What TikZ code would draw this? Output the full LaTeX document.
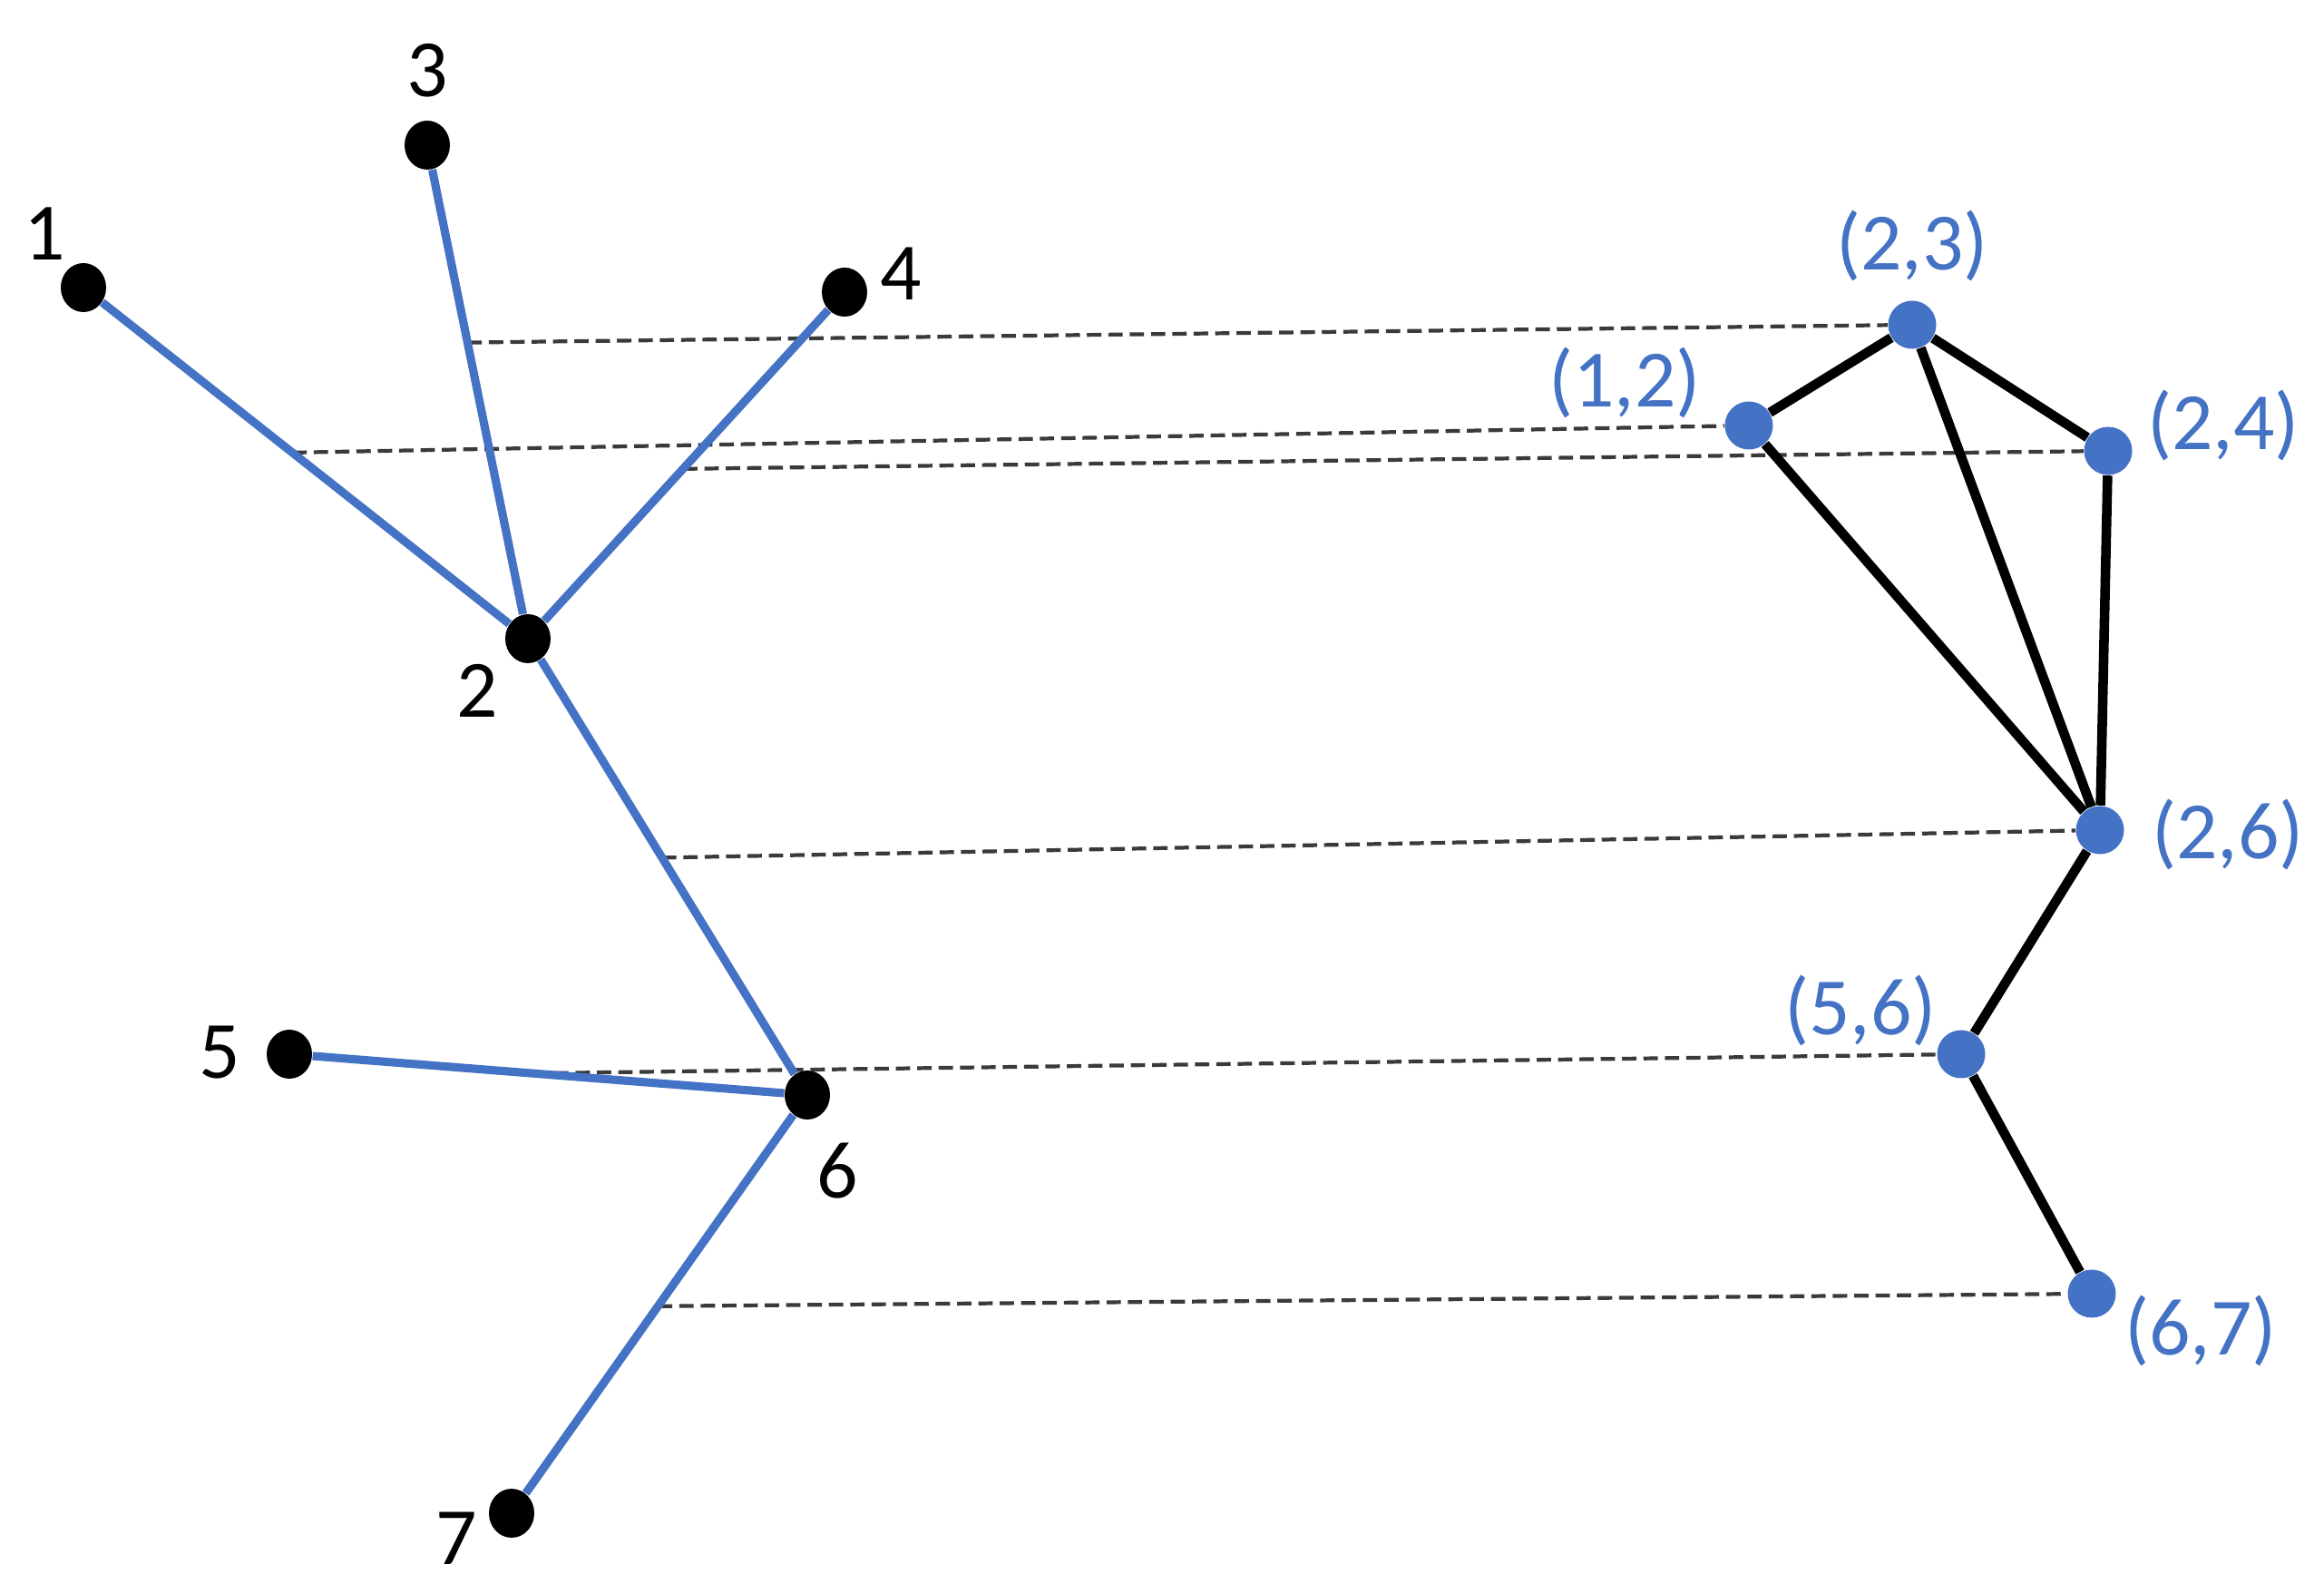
\documentclass[tikz,border=0pt]{standalone}
\usepackage{fontspec}
\setmainfont{Carlito}
\usetikzlibrary{calc, shapes.geometric}
\definecolor{lineblue}{HTML}{4472C4}
\definecolor{dashgray}{HTML}{3A3A3A}

\begin{document}
\begin{tikzpicture}[
  vtx/.style={fill=black, ellipse, inner sep=0, minimum width=0.5cm, minimum height=0.54cm},
  evtx/.style={fill=lineblue, circle, inner sep=0, minimum size=0.53cm},
  lbl/.style={font=\fontsize{25.5}{30}\selectfont, inner sep=0},
  elbl/.style={font=\fontsize{25.5}{30}\selectfont, text=lineblue, inner sep=0},
  tedge/.style={draw=lineblue, line width=2.6pt},
  ledge/.style={draw=black, line width=3pt},
  link/.style={draw=dashgray, line width=1.2pt, dash pattern=on 4.5pt off 2.2pt}]
\useasboundingbox (0,0) rectangle (25.62,17.46);
% Tree
\node[vtx] (t1) at (0.92,14.29) {};
\node[vtx] (t2) at (5.82,10.42) {};
\node[vtx] (t3) at (4.71,15.86) {};
\node[vtx] (t4) at (9.31,14.24) {};
\node[vtx] (t5) at (3.19,5.84) {};
\node[vtx] (t6) at (8.90,5.39) {};
\node[vtx] (t7) at (5.64,0.78) {};
\node[lbl] (n1) at (0.49,14.88) {1};
\node[lbl] (n2) at (5.26,9.85) {2};
\node[lbl] (n3) at (4.71,16.68) {3};
\node[lbl] (n4) at (9.93,14.44) {4};
\node[lbl] (n5) at (2.42,5.86) {5};
\node[lbl] (n6) at (9.23,4.55) {6};
\node[lbl] (n7) at (5.03,0.50) {7};
% Line graph
\node[evtx] (e23) at (21.08,13.88) {};
\node[evtx] (e12) at (19.28,12.77) {};
\node[evtx] (e24) at (23.24,12.49) {};
\node[evtx] (e26) at (23.15,8.31) {};
\node[evtx] (e56) at (21.62,5.84) {};
\node[evtx] (e67) at (23.06,3.20) {};
\node[elbl] (m23) at (21.08,14.75) {(2,3)};
\node[elbl] (m12) at (17.91,13.24) {(1,2)};
\node[elbl] (m24) at (24.51,12.77) {(2,4)};
\node[elbl] (m26) at (24.56,8.26) {(2,6)};
\node[elbl] (m56) at (20.51,6.32) {(5,6)};
\node[elbl] (m67) at (24.26,2.79) {(6,7)};
% Points on the tree edges
\coordinate (c12) at ($(t1)!0.47!(t2)$);
\coordinate (c23) at ($(t3)!0.40!(t2)$);
\coordinate (c24) at ($(t4)!0.51!(t2)$);
\coordinate (c26) at ($(t2)!0.48!(t6)$);
\coordinate (c56) at ($(t5)!0.47!(t6)$);
\coordinate (c67) at ($(t6)!0.505!(t7)$);
% Links
\draw[link] (c23)--(e23);
\draw[link] (c12)--(e12);
\draw[link] (c24)--(e24);
\draw[link] (c26)--(e26);
\draw[link] (c56)--(e56);
\draw[link] (c67)--(e67);
% Edges
\draw[tedge] (t1)--(t2);
\draw[tedge] (t3)--(t2);
\draw[tedge] (t4)--(t2);
\draw[tedge] (t2)--(t6);
\draw[tedge] (t5)--(t6);
\draw[tedge] (t6)--(t7);
\draw[ledge] (e12)--(e23);
\draw[ledge] (e23)--(e24);
\draw[ledge] (e23)--(e26);
\draw[ledge] (e12)--(e26);
\draw[ledge] (e24)--(e26);
\draw[ledge] (e26)--(e56);
\draw[ledge] (e56)--(e67);
\end{tikzpicture}
\end{document}
